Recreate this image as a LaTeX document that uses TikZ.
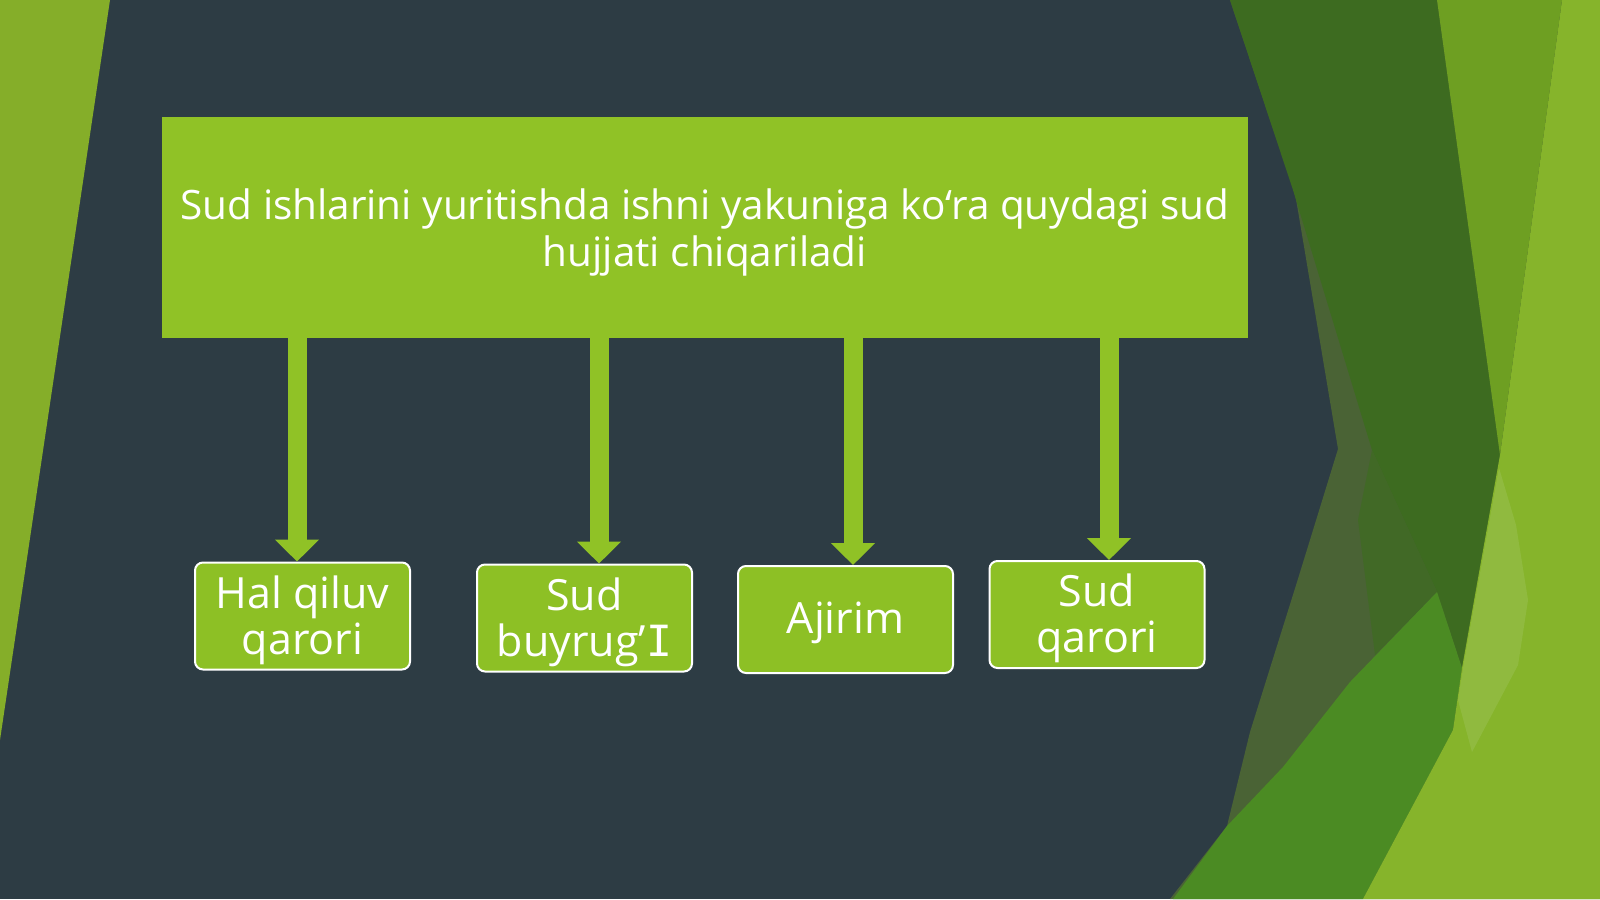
\documentclass[tikz,border=0pt]{standalone}
\usepackage{fontspec}
\setmainfont{Open Sans}
\newfontfamily\monoI{DejaVu Sans Mono}
\usetikzlibrary{arrows.meta}
\definecolor{navy}{HTML}{2D3C44}
\definecolor{leftgreen}{HTML}{85AE29}
\definecolor{accent}{HTML}{90C226}
\definecolor{boxgreen}{HTML}{8DC025}
\definecolor{muted}{HTML}{4A6335}
\definecolor{darkgreen}{HTML}{3D6B20}
\definecolor{band}{HTML}{4B8B23}
\definecolor{olive}{HTML}{6E9F22}
\definecolor{lightright}{HTML}{86B42B}
\definecolor{highlight}{HTML}{A4C866}
\tikzset{
  titlebox/.style={fill=accent, draw=none, minimum width=1086pt, minimum height=221pt,
    inner sep=0pt},
  titletext/.style={text=white, align=center, inner sep=0pt, font=\fontsize{40.5}{47}\selectfont},
  itembox/.style={fill=boxgreen, draw=white, line width=2pt, rounded corners=8pt,
    minimum width=215pt, minimum height=107pt, inner sep=0pt},
  itemtext/.style={text=white, align=center, inner sep=0pt, font=\fontsize{43}{46}\selectfont},
  bigarrow/.style={draw=accent, line width=19pt, -{Triangle[width=43pt,length=22pt]}}
}
\begin{document}
\begin{tikzpicture}[x=1pt,y=-1pt]
\useasboundingbox (0,0) rectangle (1600,899);
% background
\fill[navy] (0,0) rectangle (1600,899);
\fill[leftgreen] (0,0) -- (110,0) -- (0,740) -- cycle;
% right facets
\fill[muted] (1230,0) -- (1600,0) -- (1600,899) -- (1170,899) -- (1227,826) -- (1250,732)
  -- (1297,582) -- (1338,449) -- (1295,193) -- cycle;
\fill[darkgreen] (1230,0) -- (1437,0) -- (1500,455) -- (1462,668) -- (1437,592)
  -- (1372,450) -- (1293,190) -- cycle;
\fill[darkgreen!70!muted] (1372,450) -- (1437,592) -- (1375,655) -- (1358,520) -- cycle;
\fill[band] (1173,899) -- (1227,826) -- (1283,767) -- (1350,682) -- (1437,592)
  -- (1462,668) -- (1453,730) -- (1363,899) -- cycle;
\fill[lightright] (1562,0) -- (1600,0) -- (1600,899) -- (1363,899) -- (1453,730)
  -- (1462,668) -- (1500,455) -- cycle;
\fill[highlight, opacity=0.35] (1499,468) -- (1516,525) -- (1528,600) -- (1518,665)
  -- (1472,752) -- (1458,700) -- (1464,662) -- cycle;
\fill[olive] (1437,0) -- (1562,0) -- (1500,455) -- cycle;
% diagram
\node[titlebox] (main) at (705,227.5) {};
\node[titletext] (maintext) at ([yshift=-5pt]main.center) {Sud ishlarini yuritishda ishni yakuniga ko‘ra quydagi sud\\hujjati chiqariladi};
\node[itembox] (b1) at (302.5,616) {};
\node[itembox] (b2) at (584.5,618) {};
\node[itembox] (b3) at (845.5,619.5) {};
\node[itembox] (b4) at (1097,614.5) {};
\node[itemtext] (t1) at ([yshift=-4pt]b1.center) {Hal qiluv\\qarori};
\node[itemtext] (t2) at ([yshift=-4pt]b2.center) {Sud\\buyrug’{\monoI I}};
\node[itemtext] (t3) at ([yshift=-3pt]b3.center) {Ajirim};
\node[itemtext] (t4) at ([yshift=-4pt]b4.center) {Sud\\qarori};
\coordinate (a1) at (297,0);
\coordinate (a2) at (599,0);
\coordinate (a3) at (853,0);
\coordinate (a4) at (1109,0);
\draw[bigarrow] (main.south -| a1) -- (b1.north -| a1);
\draw[bigarrow] (main.south -| a2) -- (b2.north -| a2);
\draw[bigarrow] (main.south -| a3) -- (b3.north -| a3);
\draw[bigarrow] (main.south -| a4) -- (b4.north -| a4);
\end{tikzpicture}
\end{document}
